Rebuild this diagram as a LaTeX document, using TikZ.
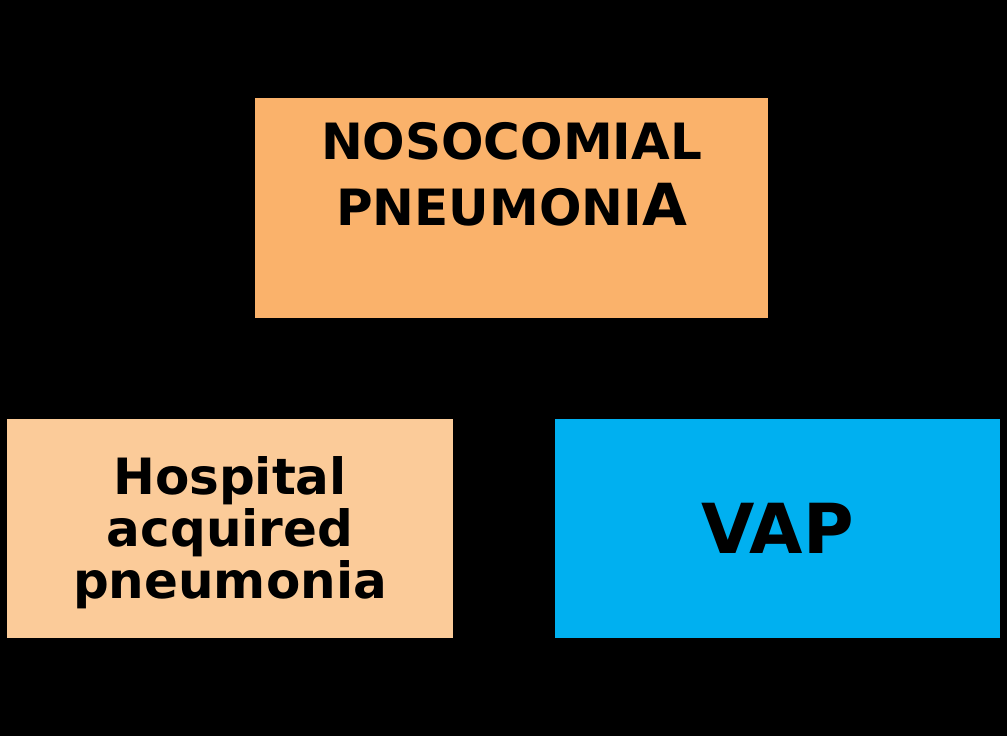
\documentclass[tikz,border=0pt]{standalone}
\usepackage{fontspec}
\setmainfont{DejaVu Sans}
\usepackage{xcolor}
\definecolor{nosoorange}{HTML}{FAB26B}
\definecolor{hapbeige}{HTML}{FBCB99}
\definecolor{vapblue}{HTML}{00B0F0}
\tikzset{
  catbox/.style={draw=none,inner sep=0pt,align=center}
}
\begin{document}
\begin{tikzpicture}[x=1pt,y=-1pt]
        % Black background
        \fill[black] (0,0) rectangle (1007,736);
        \useasboundingbox (0,0) rectangle (1007,736);

        % Draw the top box
        \node[catbox,fill=nosoorange,minimum width=513pt,minimum height=220pt,
              font=\fontsize{50}{66}\selectfont\bfseries] (noso) at (511.5,208)
          {\parbox[c][220pt][t]{500pt}{\vspace*{24pt}\centering
           NOSOCOMIAL\\PNEUMONI{\fontsize{58}{66}\selectfont A}}};

        % Draw the two lower boxes
        \node[catbox,fill=hapbeige,minimum width=446pt,minimum height=219pt,
              font=\fontsize{50}{52}\selectfont\bfseries] (hap) at (230,528.5)
          {\rule{0pt}{46pt}Hospital\\acquired\\pneumonia};
        \node[catbox,fill=vapblue,minimum width=445pt,minimum height=219pt,
              font=\fontsize{69}{80}\selectfont\bfseries] (vap) at (777.5,528.5)
          {VAP};
    \end{tikzpicture}
\end{document}
